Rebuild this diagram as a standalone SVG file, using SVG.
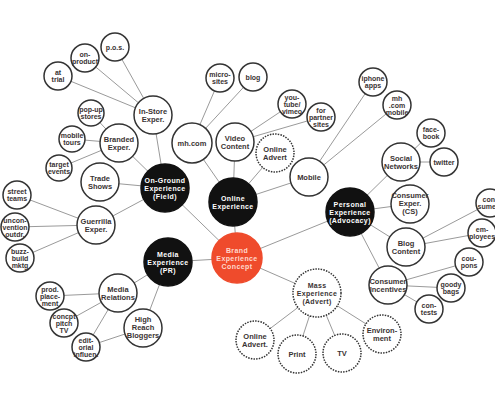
<svg xmlns="http://www.w3.org/2000/svg" width="495" height="400" viewBox="0 0 495 400">
<style>
text{font-family:"Liberation Sans",Arial,sans-serif;font-weight:bold;text-anchor:middle;fill:#3a3333}
.s text{font-size:7px}
.m text{font-size:7.5px}
.k text{font-size:7px;fill:#fff;letter-spacing:0.4px}
.r text{font-size:7px;fill:#ffd9cc;letter-spacing:0.4px}
.l text{font-size:7px;letter-spacing:0.3px}
circle{fill:#fff;stroke:#333;stroke-width:1.5}
.d circle{stroke-dasharray:1.5 1.2}
.k circle{fill:#111;stroke:#111}
.r circle{fill:#ef4b2c;stroke:#ef4b2c}
#edges line{stroke:#9a9a9a;stroke-width:1}
</style>
<rect width="495" height="400" fill="#fff"/>
<g id="edges">
<line x1="237" y1="258" x2="165" y2="188"/>
<line x1="237" y1="258" x2="233" y2="202"/>
<line x1="237" y1="258" x2="168" y2="262"/>
<line x1="237" y1="258" x2="350" y2="212"/>
<line x1="237" y1="258" x2="317" y2="293"/>
<line x1="165" y1="188" x2="153" y2="115"/>
<line x1="165" y1="188" x2="119" y2="143"/>
<line x1="165" y1="188" x2="100" y2="182"/>
<line x1="165" y1="188" x2="96" y2="225"/>
<line x1="153" y1="115" x2="115" y2="47"/>
<line x1="153" y1="115" x2="85" y2="58"/>
<line x1="153" y1="115" x2="58" y2="76"/>
<line x1="119" y1="143" x2="91" y2="113"/>
<line x1="119" y1="143" x2="72" y2="139"/>
<line x1="119" y1="143" x2="59" y2="168"/>
<line x1="96" y1="225" x2="17" y2="195"/>
<line x1="96" y1="225" x2="15" y2="227"/>
<line x1="96" y1="225" x2="20" y2="258"/>
<line x1="233" y1="202" x2="192" y2="143"/>
<line x1="233" y1="202" x2="235" y2="142"/>
<line x1="233" y1="202" x2="275" y2="153"/>
<line x1="233" y1="202" x2="309" y2="177"/>
<line x1="192" y1="143" x2="220" y2="78"/>
<line x1="192" y1="143" x2="253" y2="77"/>
<line x1="235" y1="142" x2="292" y2="104"/>
<line x1="235" y1="142" x2="321" y2="117"/>
<line x1="309" y1="177" x2="373" y2="82"/>
<line x1="309" y1="177" x2="397" y2="105"/>
<line x1="350" y1="212" x2="401" y2="162"/>
<line x1="350" y1="212" x2="410" y2="204"/>
<line x1="350" y1="212" x2="406" y2="247"/>
<line x1="350" y1="212" x2="388" y2="285"/>
<line x1="401" y1="162" x2="431" y2="133"/>
<line x1="401" y1="162" x2="444" y2="162"/>
<line x1="406" y1="247" x2="490" y2="203"/>
<line x1="406" y1="247" x2="482" y2="233"/>
<line x1="388" y1="285" x2="469" y2="262"/>
<line x1="388" y1="285" x2="451" y2="288"/>
<line x1="388" y1="285" x2="429" y2="309"/>
<line x1="168" y1="262" x2="118" y2="293"/>
<line x1="168" y1="262" x2="143" y2="328"/>
<line x1="118" y1="293" x2="50" y2="296"/>
<line x1="118" y1="293" x2="64" y2="323"/>
<line x1="118" y1="293" x2="86" y2="347"/>
<line x1="143" y1="328" x2="86" y2="347"/>
<line x1="317" y1="293" x2="255" y2="340"/>
<line x1="317" y1="293" x2="297" y2="354"/>
<line x1="317" y1="293" x2="342" y2="353"/>
<line x1="317" y1="293" x2="382" y2="334"/>
</g>

<g id="brand" class="r"><circle cx="237" cy="258" r="25"/><text y="252.6"><tspan x="237">Brand</tspan><tspan x="237" dy="8">Experience</tspan><tspan x="237" dy="8">Concept</tspan></text></g>
<g id="onground" class="k"><circle cx="165" cy="188" r="24"/><text y="182.6"><tspan x="165">On-Ground</tspan><tspan x="165" dy="8">Experience</tspan><tspan x="165" dy="8">(Field)</tspan></text></g>
<g id="online" class="k"><circle cx="233" cy="202" r="24"/><text y="200.6"><tspan x="233">Online</tspan><tspan x="233" dy="8">Experience</tspan></text></g>
<g id="media" class="k"><circle cx="168" cy="262" r="24"/><text y="256.6"><tspan x="168">Media</tspan><tspan x="168" dy="8">Experience</tspan><tspan x="168" dy="8">(PR)</tspan></text></g>
<g id="personal" class="k"><circle cx="350" cy="212" r="24"/><text y="206.6"><tspan x="350">Personal</tspan><tspan x="350" dy="8">Experience</tspan><tspan x="350" dy="8">(Advocacy)</tspan></text></g>
<g id="mass" class="l d"><circle cx="317" cy="293" r="24"/><text y="287.6"><tspan x="317">Mass</tspan><tspan x="317" dy="8">Experience</tspan><tspan x="317" dy="8">(Advert)</tspan></text></g>

<g id="instore" class="m"><circle cx="153" cy="115" r="19"/><text y="113.5"><tspan x="153">In-Store</tspan><tspan x="153" dy="8.5">Exper.</tspan></text></g>
<g id="branded" class="m"><circle cx="119" cy="143" r="19"/><text y="141.5"><tspan x="119">Branded</tspan><tspan x="119" dy="8.5">Exper.</tspan></text></g>
<g id="trade" class="m"><circle cx="100" cy="182" r="19"/><text y="180.5"><tspan x="100">Trade</tspan><tspan x="100" dy="8.5">Shows</tspan></text></g>
<g id="guerrilla" class="m"><circle cx="96" cy="225" r="19"/><text y="223.5"><tspan x="96">Guerrilla</tspan><tspan x="96" dy="8.5">Exper.</tspan></text></g>
<g id="mhcom" class="m"><circle cx="192" cy="143" r="20"/><text x="192" y="145.8">mh.com</text></g>
<g id="video" class="m"><circle cx="235" cy="142" r="19"/><text y="140.5"><tspan x="235">Video</tspan><tspan x="235" dy="8.5">Content</tspan></text></g>
<g id="onlineadvert" class="m d"><circle cx="275" cy="153" r="19"/><text y="151.5"><tspan x="275">Online</tspan><tspan x="275" dy="8.5">Advert</tspan></text></g>
<g id="mobile" class="m"><circle cx="309" cy="177" r="19"/><text x="309" y="179.8">Mobile</text></g>
<g id="social" class="m"><circle cx="401" cy="162" r="19"/><text y="160.5"><tspan x="401">Social</tspan><tspan x="401" dy="8.5">Networks</tspan></text></g>
<g id="cs" class="m"><circle cx="410" cy="204" r="19"/><text y="198.3"><tspan x="410">Consumer</tspan><tspan x="410" dy="8">Exper.</tspan><tspan x="410" dy="8">(CS)</tspan></text></g>
<g id="blogcontent" class="m"><circle cx="406" cy="247" r="19"/><text y="245.5"><tspan x="406">Blog</tspan><tspan x="406" dy="8.5">Content</tspan></text></g>
<g id="incentives" class="m"><circle cx="388" cy="285" r="19"/><text y="283.5"><tspan x="388">Consumer</tspan><tspan x="388" dy="8.5">Incentives</tspan></text></g>
<g id="mediarel" class="m"><circle cx="118" cy="293" r="19"/><text y="291.5"><tspan x="118">Media</tspan><tspan x="118" dy="8.5">Relations</tspan></text></g>
<g id="bloggers" class="m"><circle cx="143" cy="328" r="19"/><text y="322.3"><tspan x="143">High</tspan><tspan x="143" dy="8">Reach</tspan><tspan x="143" dy="8">Bloggers</tspan></text></g>
<g id="onlineadvert2" class="m d"><circle cx="255" cy="340" r="19"/><text y="338.5"><tspan x="255">Online</tspan><tspan x="255" dy="8.5">Advert.</tspan></text></g>
<g id="print" class="m d"><circle cx="297" cy="354" r="19"/><text x="297" y="356.8">Print</text></g>
<g id="tv" class="m d"><circle cx="342" cy="353" r="19"/><text x="342" y="355.8">TV</text></g>
<g id="environment" class="m d"><circle cx="382" cy="334" r="19"/><text y="332.5"><tspan x="382">Environ-</tspan><tspan x="382" dy="8.5">ment</tspan></text></g>

<g id="pos" class="s"><circle cx="115" cy="47" r="14"/><text x="115" y="49.5">p.o.s.</text></g>
<g id="onproduct" class="s"><circle cx="85" cy="58" r="14"/><text y="57"><tspan x="85">on-</tspan><tspan x="85" dy="7">product</tspan></text></g>
<g id="attrial" class="s"><circle cx="58" cy="76" r="14"/><text y="75"><tspan x="58">at</tspan><tspan x="58" dy="7">trial</tspan></text></g>
<g id="popup" class="s"><circle cx="91" cy="113" r="13"/><text y="112"><tspan x="91">pop-up</tspan><tspan x="91" dy="7">stores</tspan></text></g>
<g id="mobiletours" class="s"><circle cx="72" cy="139" r="13"/><text y="138"><tspan x="72">mobile</tspan><tspan x="72" dy="7">tours</tspan></text></g>
<g id="target" class="s"><circle cx="59" cy="168" r="13"/><text y="167"><tspan x="59">target</tspan><tspan x="59" dy="7">events</tspan></text></g>
<g id="micro" class="s"><circle cx="220" cy="78" r="14"/><text y="77"><tspan x="220">micro-</tspan><tspan x="220" dy="7">sites</tspan></text></g>
<g id="blog" class="s"><circle cx="253" cy="77" r="14"/><text x="253" y="79.5">blog</text></g>
<g id="youtube" class="s"><circle cx="292" cy="104" r="14"/><text y="99.5"><tspan x="292">you-</tspan><tspan x="292" dy="7">tube/</tspan><tspan x="292" dy="7">vimeo</tspan></text></g>
<g id="partner" class="s"><circle cx="321" cy="117" r="14"/><text y="112.5"><tspan x="321">for</tspan><tspan x="321" dy="7">partner</tspan><tspan x="321" dy="7">sites</tspan></text></g>
<g id="iphone" class="s"><circle cx="373" cy="82" r="14"/><text y="81"><tspan x="373">iphone</tspan><tspan x="373" dy="7">apps</tspan></text></g>
<g id="mhmobile" class="s"><circle cx="397" cy="105" r="14"/><text y="100.5"><tspan x="397">mh</tspan><tspan x="397" dy="7">.com</tspan><tspan x="397" dy="7">mobile</tspan></text></g>
<g id="facebook" class="s"><circle cx="431" cy="133" r="14"/><text y="132"><tspan x="431">face-</tspan><tspan x="431" dy="7">book</tspan></text></g>
<g id="twitter" class="s"><circle cx="444" cy="162" r="14"/><text x="444" y="164.5">twitter</text></g>
<g id="consumers" class="s"><circle cx="490" cy="203" r="14"/><text y="202"><tspan x="490">con-</tspan><tspan x="490" dy="7">sumers</tspan></text></g>
<g id="employees" class="s"><circle cx="482" cy="233" r="14"/><text y="232"><tspan x="482">em-</tspan><tspan x="482" dy="7">ployees</tspan></text></g>
<g id="coupons" class="s"><circle cx="469" cy="262" r="14"/><text y="261"><tspan x="469">cou-</tspan><tspan x="469" dy="7">pons</tspan></text></g>
<g id="goody" class="s"><circle cx="451" cy="288" r="14"/><text y="287"><tspan x="451">goody</tspan><tspan x="451" dy="7">bags</tspan></text></g>
<g id="contests" class="s"><circle cx="429" cy="309" r="14"/><text y="308"><tspan x="429">con-</tspan><tspan x="429" dy="7">tests</tspan></text></g>
<g id="street" class="s"><circle cx="17" cy="195" r="14"/><text y="194"><tspan x="17">street</tspan><tspan x="17" dy="7">teams</tspan></text></g>
<g id="uncon" class="s"><circle cx="15" cy="227" r="14"/><text y="222.5"><tspan x="15">uncon-</tspan><tspan x="15" dy="7">vention</tspan><tspan x="15" dy="7">outdr.</tspan></text></g>
<g id="buzz" class="s"><circle cx="20" cy="258" r="14"/><text y="253.5"><tspan x="20">buzz-</tspan><tspan x="20" dy="7">build</tspan><tspan x="20" dy="7">mktg</tspan></text></g>
<g id="prod" class="s"><circle cx="50" cy="296" r="14"/><text y="291.5"><tspan x="50">prod.</tspan><tspan x="50" dy="7">place-</tspan><tspan x="50" dy="7">ment</tspan></text></g>
<g id="concpt" class="s"><circle cx="64" cy="323" r="14"/><text y="318.5"><tspan x="64">concpt</tspan><tspan x="64" dy="7">pitch</tspan><tspan x="64" dy="7">TV</tspan></text></g>
<g id="editorial" class="s"><circle cx="86" cy="347" r="14"/><text y="342.5"><tspan x="86">edit-</tspan><tspan x="86" dy="7">orial</tspan><tspan x="86" dy="7">influen.</tspan></text></g>
</svg>
